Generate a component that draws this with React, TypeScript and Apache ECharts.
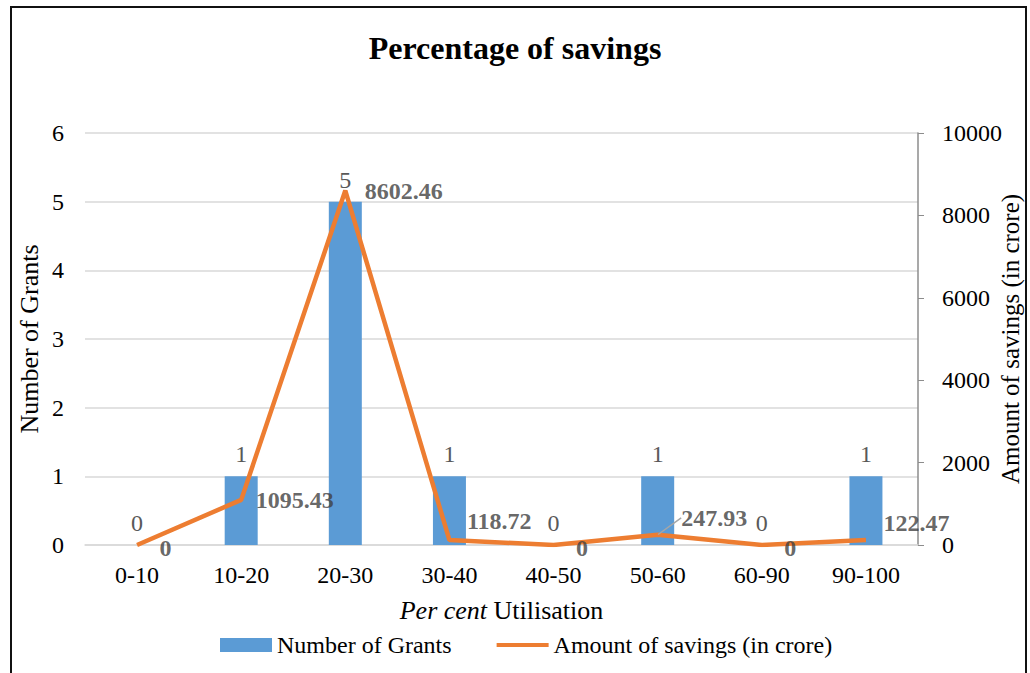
import React, { useEffect, useRef } from "react";
import * as echarts from "echarts";

const categories = ["0-10", "10-20", "20-30", "30-40", "40-50", "50-60", "60-90", "90-100"];
const grants = [0, 1, 5, 1, 0, 1, 0, 1];
const savings = [0, 1095.43, 8602.46, 118.72, 0, 247.93, 0, 122.47];
const leftTicks = { min: 0, max: 6, interval: 1 };
const rightTicks = { min: 0, max: 10000, interval: 2000 };

// label shifts for the savings labels (style only)
const savingsLabelShift: [number, number][] = [
  [8, 3], [0, 0], [5, 0], [3, -19], [8, 3], [9, -17], [8, 3], [3, -17],
];

const FONT = "'Liberation Serif', 'Times New Roman', serif";
const LINE_NAME = "Amount of savings (in crore)";
const BAR_NAME = "Number of Grants";

export default function App() {
  const ref = useRef<HTMLDivElement>(null);
  useEffect(() => {
    const chart = echarts.init(ref.current!, null, { renderer: "svg" });
    chart.setOption({
      animation: false,
      textStyle: { fontFamily: FONT },
      title: {
        text: "Percentage of savings",
        left: "center",
        top: 27,
        textStyle: { fontFamily: FONT, fontSize: 32, fontWeight: "bold", color: "#000" },
      },
      graphic: [
        {
          type: "polyline",
          shape: { points: [[11, 700], [11, 7], [1026, 7], [1026, 700]] },
          style: { stroke: "#111", lineWidth: 2, fill: "none" },
          silent: true,
        },
      ],
      legend: {
        left: 215,
        top: 628,
        itemWidth: 52,
        itemHeight: 14,
        itemGap: 45,
        textStyle: { fontFamily: FONT, fontSize: 24, color: "#000" },
        data: [
          { name: BAR_NAME, icon: "rect" },
          { name: LINE_NAME, icon: "path://M0,0 L56,0 L56,4.5 L0,4.5 Z" },
        ],
      },
      grid: { left: 85, right: 112, top: 133, bottom: 128, outerBoundsMode: "none", containLabel: false },
      xAxis: {
        type: "category",
        data: categories,
        axisLine: { show: true, lineStyle: { color: "#D9D9D9", width: 1.5 } },
        axisTick: { show: false },
        axisLabel: { fontFamily: FONT, fontSize: 24, color: "#000", margin: 18 },
        name: "{i|Per cent }{n|Utilisation}",
        nameLocation: "middle",
        nameGap: 52,
        nameMoveOverlap: false,
        nameTextStyle: {
          rich: {
            i: { fontFamily: FONT, fontSize: 26, fontStyle: "italic", color: "#000" },
            n: { fontFamily: FONT, fontSize: 26, color: "#000" },
          },
        },
      },
      yAxis: [
        {
          type: "value",
          min: leftTicks.min,
          max: leftTicks.max,
          interval: leftTicks.interval,
          axisLine: { show: false },
          axisTick: { show: false },
          axisLabel: { fontFamily: FONT, fontSize: 24, color: "#000", margin: 21 },
          splitLine: { lineStyle: { color: "#D9D9D9", width: 1.5 } },
          name: BAR_NAME,
          nameLocation: "middle",
          nameGap: 43,
          nameMoveOverlap: false,
          nameTextStyle: { fontFamily: FONT, fontSize: 26, color: "#000" },
        },
        {
          type: "value",
          min: rightTicks.min,
          max: rightTicks.max,
          interval: rightTicks.interval,
          position: "right",
          axisLine: { show: true, lineStyle: { color: "#8C8C8C", width: 1.5 } },
          axisTick: { show: true, length: 6, lineStyle: { color: "#8C8C8C" } },
          axisLabel: {
            fontFamily: FONT,
            fontSize: 24,
            color: "#000",
            margin: 24,
            formatter: (v: number) => String(v),
          },
          splitLine: { show: false },
          name: LINE_NAME,
          nameLocation: "middle",
          nameGap: 80,
          nameMoveOverlap: false,
          nameTextStyle: { fontFamily: FONT, fontSize: 25, color: "#000" },
        },
      ],
      series: [
        {
          name: BAR_NAME,
          type: "bar",
          yAxisIndex: 0,
          data: grants,
          barWidth: 33,
          itemStyle: { color: "#5B9BD5" },
          label: {
            show: true,
            position: "top",
            distance: 10,
            fontFamily: FONT,
            fontSize: 24,
            color: "#595959",
          },
          z: 2,
        },
        {
          name: LINE_NAME,
          type: "line",
          yAxisIndex: 1,
          symbol: "none",
          showSymbol: false,
          lineStyle: { color: "#ED7D31", width: 4.5 },
          itemStyle: { color: "#ED7D31" },
          data: savings,
          z: 3,
        },
        {
          name: "savings-labels",
          type: "scatter",
          yAxisIndex: 1,
          symbolSize: 1,
          itemStyle: { color: "rgba(0,0,0,0)" },
          silent: true,
          z: 4,
          labelLine: { show: false, lineStyle: { color: "#A6A6A6", width: 1.5 } },
          labelLayout: (p: any) => ({
            dx: savingsLabelShift[p.dataIndex][0],
            dy: savingsLabelShift[p.dataIndex][1],
          }),
          data: savings.map((v, i) => ({
            value: v,
            label: {
              show: true,
              position: "right",
              distance: 14,
              fontFamily: FONT,
              fontSize: 24,
              fontWeight: "bold",
              color: "#404040",
            },
            labelLine: { show: i === 5, lineStyle: { color: "#A6A6A6", width: 1.5 } },
          })),
        },
      ],
    });
    return () => chart.dispose();
  }, []);
  return (
    <div
      ref={ref}
      style={{ position: "absolute", left: 0, top: 0, width: 1030, height: 673, background: "#fff" }}
    />
  );
}
